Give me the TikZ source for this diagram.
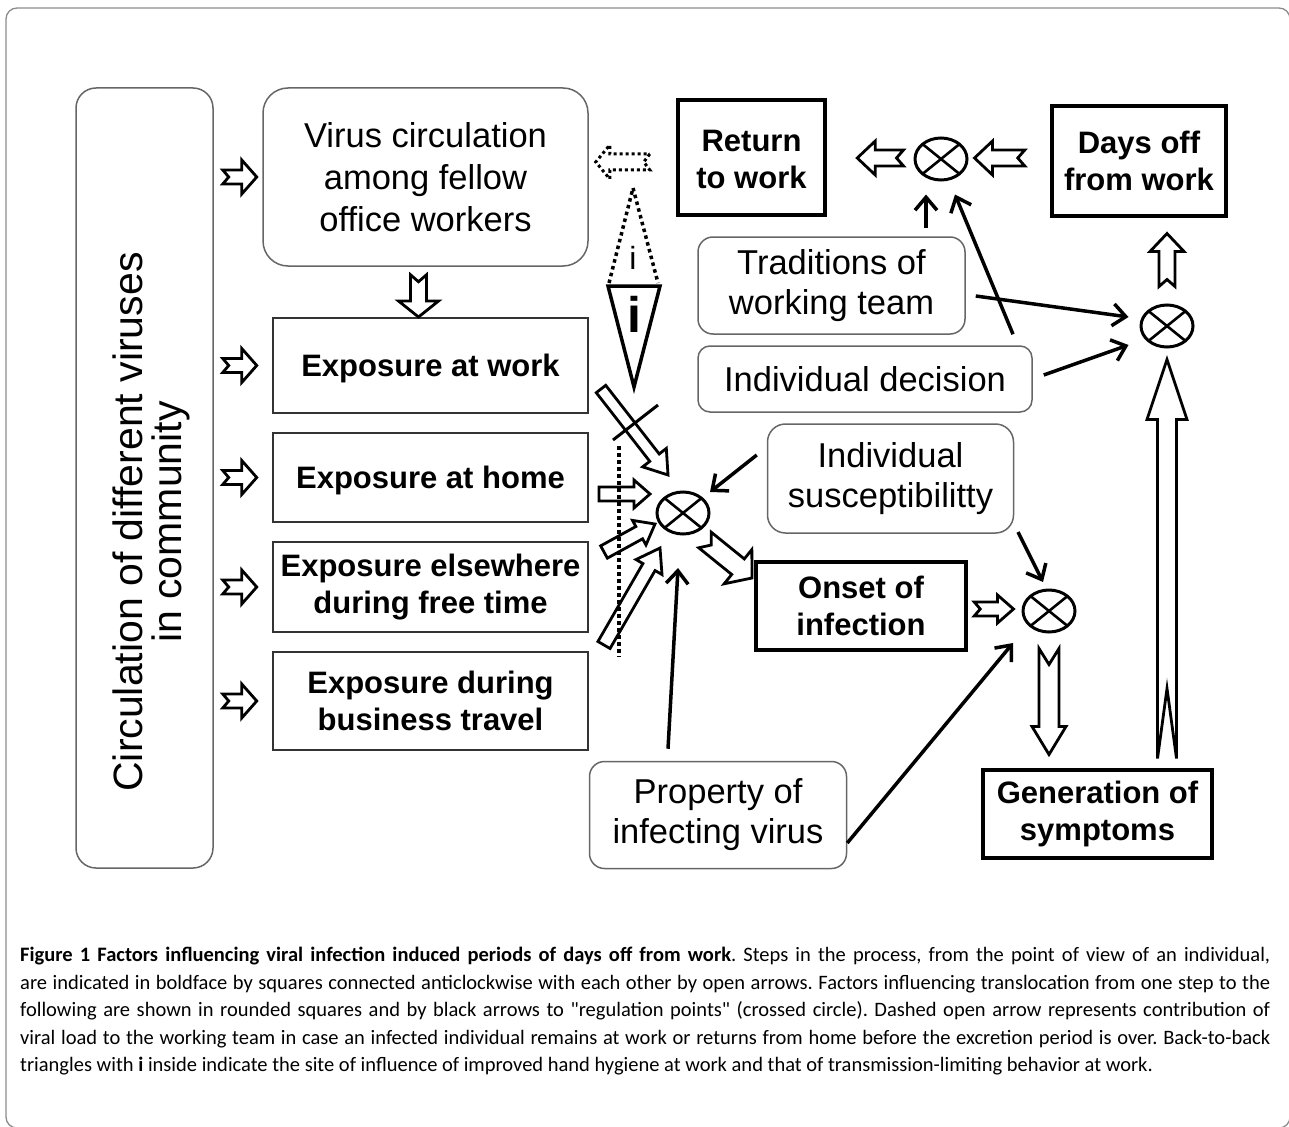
\documentclass[tikz,border=0pt]{standalone}
\usepackage{fontspec}
\setmainfont{Liberation Sans}
\newfontfamily\capfont{Carlito}
\usetikzlibrary{calc,shapes.geometric,arrows.meta}

% open block arrow: [style]{from}{to}{shaft half}{head half}{head length}{tail notch}
\newcommand{\openarrow}[7][]{%
  \coordinate (oa-b) at ($(#3)!#6!(#2)$);
  \draw[blockarrow,#1] ($(#2)!#4!90:(#3)$) -- ($(#2)!#7!(#3)$) -- ($(#2)!#4!-90:(#3)$)
    -- ($(oa-b)!#4!-90:(#3)$) -- ($(oa-b)!#5!-90:(#3)$) -- (#3)
    -- ($(oa-b)!#5!90:(#3)$) -- ($(oa-b)!#4!90:(#3)$) -- cycle;
}
\newcommand{\capline}[1]{\makebox[1250pt][s]{#1}}

\begin{document}
\begin{tikzpicture}[x=1pt,y=1pt,yscale=-1,
  softbox/.style={draw=black!60,line width=1.5pt,rounded corners=18pt,align=center,inner sep=0pt,font=\fontsize{34.5}{40}\selectfont},
  expbox/.style={draw=black!80,line width=2pt,align=center,inner sep=0pt,font=\bfseries\fontsize{31}{37}\selectfont},
  stepbox/.style={draw=black,line width=4.5pt,align=center,inner sep=0pt,font=\bfseries\fontsize{31}{37}\selectfont},
  regpoint/.style={ellipse,draw,line width=3pt,minimum width=52pt,minimum height=42pt,inner sep=0pt,
    path picture={\draw[line width=2.6pt] (path picture bounding box.north west) -- (path picture bounding box.south east)
      (path picture bounding box.north east) -- (path picture bounding box.south west);}},
  blockarrow/.style={draw=black,fill=white,line width=2.8pt,line join=miter},
  factor/.style={-{Straight Barb[length=13pt,width=22pt]},line width=3.5pt},
  dots/.style={line width=3.5pt,dash pattern=on 3.5pt off 3.5pt},
]
\useasboundingbox (0,0) rectangle (1289,1126);

% frame
\draw[black!45,line width=1.3pt,rounded corners=11pt] (6,8) rectangle (1290,1128);

% Factor boxes
\node[softbox,rounded corners=20pt,minimum width=137,minimum height=780] (comm) at (144.5,478) {};
\node[rotate=90,align=center,inner sep=0pt,font=\fontsize{41}{39}\selectfont] (commtext) at (151,522) {Circulation of different viruses\\in community};
\node[softbox,rounded corners=25pt,minimum width=325,minimum height=178,font=\fontsize{34.5}{42}\selectfont] (virus) at (425.5,177) {Virus circulation\\among fellow\\office workers};
\node[softbox,rounded corners=15pt,minimum width=267,minimum height=97] (trad) at (831.5,285.5) {Traditions of\\working team};
\node[softbox,rounded corners=12pt,minimum width=334,minimum height=66] (indiv) at (865,379) {Individual decision};
\node[softbox,minimum width=246,minimum height=109] (suscept) at (890.5,478.5) {Individual\\susceptibilitty};
\node[softbox,rounded corners=15pt,minimum width=257,minimum height=107] (property) at (718,815) {Property of\\infecting virus};

% Exposure boxes
\node[expbox,minimum width=315,minimum height=95,text depth=-4pt] (expwork) at (430.5,365.5) {Exposure at work};
\node[expbox,minimum width=315,minimum height=89,text depth=-4pt] (exphome) at (430.5,477.5) {Exposure at home};
\node[expbox,minimum width=315,minimum height=90] (expfree) at (430.5,587) {Exposure elsewhere\\during free time};
\node[expbox,minimum width=315,minimum height=98] (exptravel) at (430.5,701) {Exposure during\\business travel};

% Steps
\node[stepbox,minimum width=147,minimum height=115] (retwork) at (751.5,157.5) {\strut Return\\to work};
\node[stepbox,minimum width=174,minimum height=110] (dayoff) at (1139,161) {Days off\\from work};
\node[stepbox,minimum width=210,minimum height=88] (onset) at (861,606) {Onset of\\infection};
\node[stepbox,minimum width=229,minimum height=88] (gensym) at (1097.5,814) {Generation of\\symptoms};

% Regulation points
\node[regpoint] (regtop) at (941,159) {};
\node[regpoint] (regright) at (1167,326) {};
\node[regpoint] (regonset) at (1049,611) {};
\node[regpoint] (reginf) at (683,513) {};

% community -> virus and exposures
\foreach \t/\n in {virus/1,expwork/2,exphome/3,expfree/4,exptravel/5}{
  \coordinate (cin\n) at ($(comm.east |- \t.west)+(9,0)$);
  \coordinate (cout\n) at ($(comm.east |- \t.west)+(43,0)$);
  \openarrow{cin\n}{cout\n}{7pt}{17pt}{15pt}{6pt}
}

% virus -> exposure at work
\coordinate (va1) at ($(virus.south)+(-7,8)$);
\coordinate (va2) at (va1 |- expwork.north);
\openarrow{va1}{va2}{8pt}{20pt}{16pt}{7pt}

% exposures -> infection point
\coordinate (wi1) at ($(expwork.east)+(12,23.5)$);
\coordinate (wi2) at ($(reginf)+(-15,-38)$);
\openarrow{wi1}{wi2}{6pt}{15pt}{22pt}{0pt}
\coordinate (hi1) at ($(exphome.east)+(10,16.5)$);
\coordinate (hi2) at ($(reginf)+(-33,-19)$);
\openarrow{hi1}{hi2}{7pt}{14pt}{16pt}{0pt}
\coordinate (fi1) at ($(expfree.east)+(15,-35)$);
\coordinate (fi2) at ($(reginf)+(-28,11)$);
\openarrow{fi1}{fi2}{7pt}{14pt}{18pt}{0pt}
\coordinate (ti1) at ($(exptravel.east)+(15,-56)$);
\coordinate (ti2) at ($(reginf)+(-23,35)$);
\openarrow{ti1}{ti2}{7pt}{15pt}{22pt}{0pt}

% infection point -> onset
\coordinate (oi1) at ($(reginf)+(22,27)$);
\coordinate (oi2) at ($(reginf)+(69,65)$);
\openarrow{oi1}{oi2}{10pt}{22pt}{18pt}{8pt}

% onset -> symptoms -> days off -> return
\coordinate (oc1) at ($(onset.east)+(6,3)$);
\coordinate (oc2) at ($(regonset.west)+(-8,-2)$);
\openarrow{oc1}{oc2}{7pt}{14pt}{16pt}{6pt}
\coordinate (og1) at ($(regonset.south)+(0,15)$);
\coordinate (og2) at ($(regonset.south)+(0,121)$);
\openarrow{og1}{og2}{10pt}{17pt}{28pt}{16pt}
\coordinate (gr1) at ($(regright.south)+(0,410)$);
\coordinate (gr2) at ($(regright.south)+(0,11)$);
\openarrow{gr1}{gr2}{9.5pt}{20pt}{60pt}{70pt}
\coordinate (rd1) at ($(regright.north)+(0,-17)$);
\coordinate (rd2) at ($(regright.north)+(0,-70)$);
\openarrow{rd1}{rd2}{8pt}{17pt}{18pt}{7pt}
\coordinate (d1) at ($(dayoff.west)+(-25,-3)$);
\coordinate (d2) at ($(regtop.east)+(6,-1)$);
\openarrow{d1}{d2}{8pt}{17pt}{18pt}{7pt}
\coordinate (r1) at ($(regtop.west)+(-10,-1)$);
\coordinate (r2) at ($(retwork.east)+(30,0.5)$);
\openarrow{r1}{r2}{8pt}{17pt}{18pt}{7pt}

% return -> fellow workers (dashed)
\coordinate (f1) at ($(retwork.west)+(-26,4.5)$);
\coordinate (f2) at ($(retwork.west)+(-80,4.5)$);
\openarrow[dots,line width=3pt,dash pattern=on 3pt off 3pt]{f1}{f2}{8pt}{17pt}{14pt}{6pt}

% hygiene triangles
\draw[dots] (609,283) -- (633,188) -- (658,283);
\draw[line width=3.5pt,line join=miter] (608,286) -- (660,286) -- (634,387) -- cycle;
\node[font=\fontsize{32}{32}\selectfont,inner sep=0pt] (iup) at (633,258) {i};
\node[font=\bfseries\fontsize{50}{50}\selectfont,inner sep=0pt] (idown) at (634,314) {i};

% barrier at work
\draw[line width=3pt] (613,440) -- (658,405);
\draw[dots] (619,446) -- (619,657);

% factor arrows
\coordinate (s1) at ($(suscept.west)+(-10,-23.5)$);
\coordinate (s2) at ($(reginf)+(27,-21)$);
\draw[factor] (s1) -- (s2);
\coordinate (p1) at ($(property.north)+(-50,-12)$);
\coordinate (p2) at ($(reginf)+(-5,55)$);
\draw[factor] (p1) -- (p2);
\coordinate (p3) at ($(property.east)+(0,28)$);
\coordinate (p4) at ($(regonset)+(-36,32)$);
\draw[factor] (p3) -- (p4);
\coordinate (s3) at ($(regonset)+(-31,-79)$);
\coordinate (s4) at ($(regonset)+(-6,-29)$);
\draw[factor] (s3) -- (s4);
\coordinate (a1) at ($(regtop.south)+(-15,46)$);
\coordinate (a2) at ($(regtop.south)+(-15,13)$);
\draw[factor] (a1) -- (a2);
\coordinate (b1) at ($(indiv.north)+(148,-11)$);
\coordinate (b2) at ($(regtop.south)+(14,13)$);
\draw[factor] (b1) -- (b2);
\coordinate (c1) at ($(trad.east)+(10,10.5)$);
\coordinate (c2) at ($(regright.west)+(-11,-9)$);
\draw[factor] (c1) -- (c2);
\coordinate (e1) at ($(indiv.east)+(11,-4)$);
\coordinate (e2) at ($(regright.west)+(-11,19)$);
\draw[factor] (e1) -- (e2);

% caption
\node[anchor=north west,align=left,inner sep=0pt,font=\capfont\frenchspacing\fontsize{20.5}{27.5}\selectfont] (caption) at (20,947) {%
\capline{\textbf{Figure 1 Factors influencing viral infection induced periods of days off from work}. Steps in the process, from the point of view of an individual,}\\
\capline{are indicated in boldface by squares connected anticlockwise with each other by open arrows. Factors influencing translocation from one step to the}\\
\capline{following are shown in rounded squares and by black arrows to "regulation points" (crossed circle). Dashed open arrow represents contribution of}\\
\capline{viral load to the working team in case an infected individual remains at work or returns from home before the excretion period is over. Back-to-back}\\
triangles with \textbf{i} inside indicate the site of influence of improved hand hygiene at work and that of transmission-limiting behavior at work.};
\end{tikzpicture}
\end{document}
